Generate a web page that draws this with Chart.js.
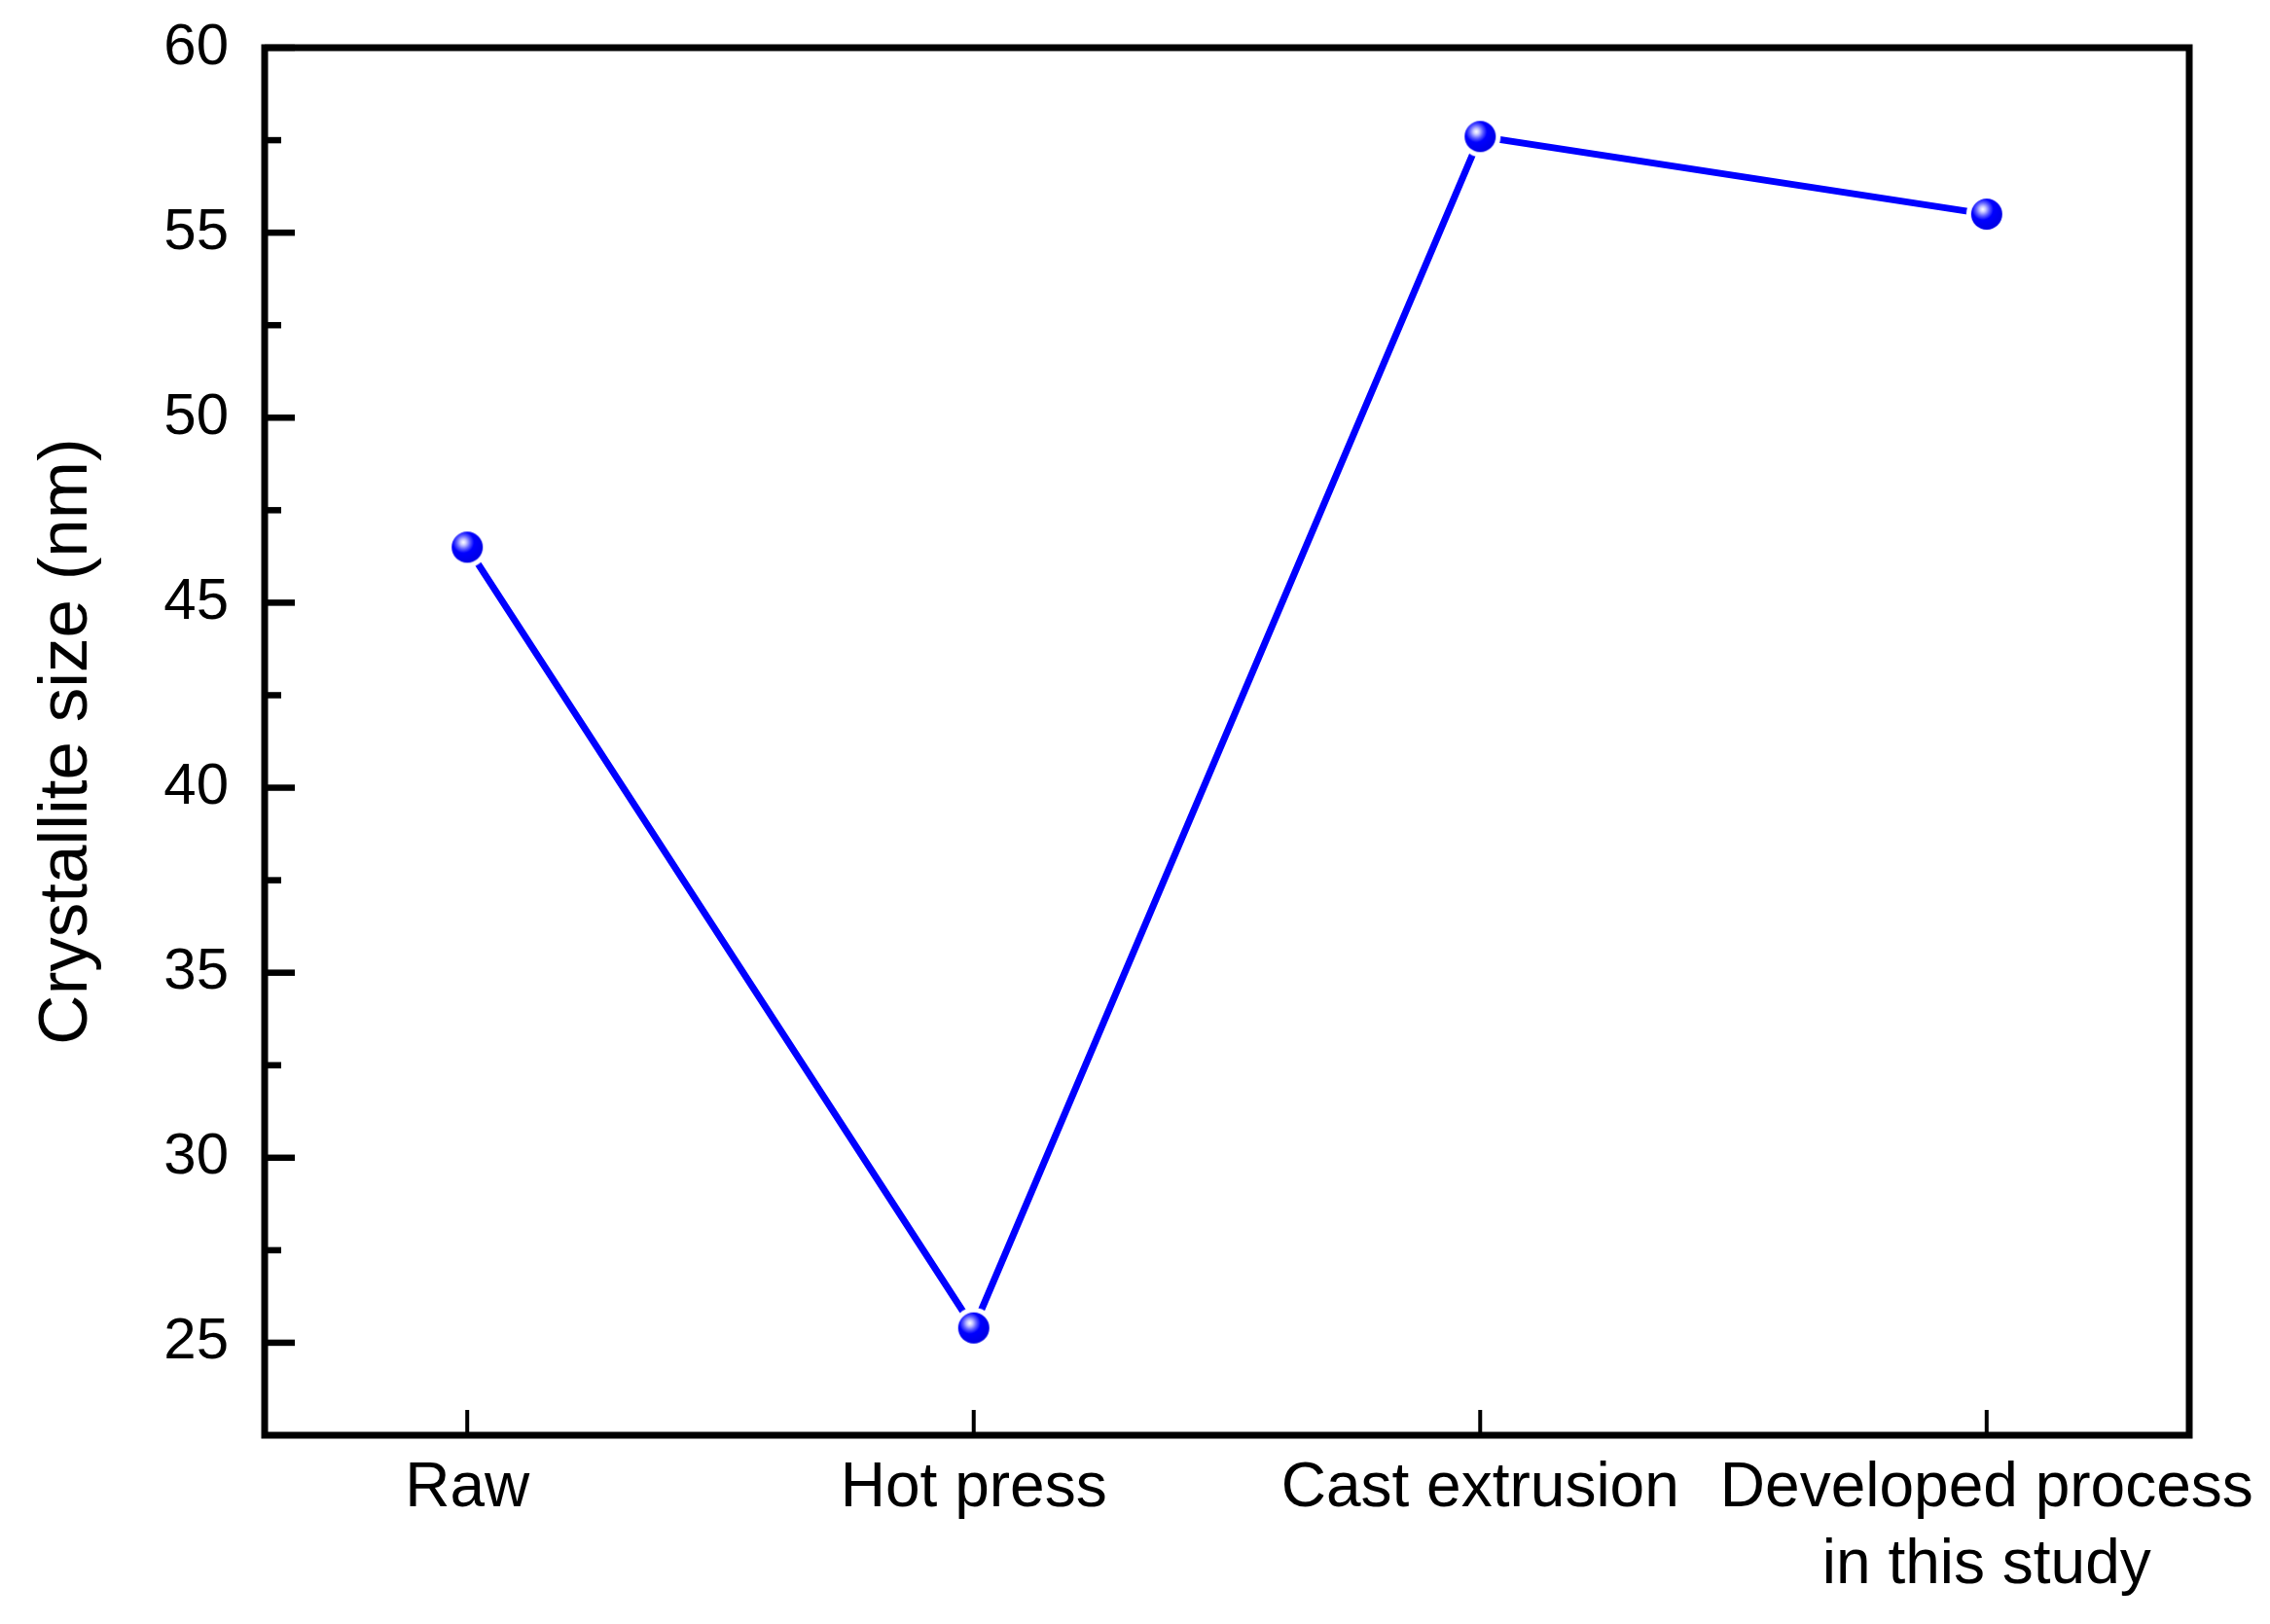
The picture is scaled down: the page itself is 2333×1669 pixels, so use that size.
<!DOCTYPE html>
<html>
<head>
<meta charset="utf-8">
<script src="https://cdn.jsdelivr.net/npm/chart.js@4/dist/chart.umd.min.js"></script>
<style>
  html, body { margin: 0; padding: 0; background: #fff; }
  #wrap { width: 2333px; height: 1669px; }
</style>
</head>
<body>
<div id="wrap"><canvas id="lineChart"></canvas></div>
<script>
// data
const categories = ['Raw', 'Hot press', 'Cast extrusion', ['Developed process', 'in this study']];
const crystalliteSize = [46.5, 25.4, 57.6, 55.5];
const yMajorTicks = [25, 30, 35, 40, 45, 50, 55, 60];
const yMinorTicks = [27.5, 32.5, 37.5, 42.5, 47.5, 52.5, 57.5];

const FONT = "'Liberation Sans', Arial, sans-serif";

// sphere marker with a white halo so the line stops short of it
function makeMarker() {
  const size = 50, c = size / 2, r = 16;
  const cv = document.createElement('canvas');
  cv.width = size; cv.height = size;
  const g = cv.getContext('2d');
  g.fillStyle = '#ffffff';
  g.beginPath(); g.arc(c, c, r + 5, 0, Math.PI * 2); g.fill();
  const grad = g.createRadialGradient(c - 4, c - 5, 0, c - 4, c - 5, r + 4);
  grad.addColorStop(0, '#ffffff');
  grad.addColorStop(0.15, '#c8c8ff');
  grad.addColorStop(0.35, '#5a5aff');
  grad.addColorStop(0.55, '#0000ff');
  grad.addColorStop(1, '#0000e8');
  g.fillStyle = grad;
  g.beginPath(); g.arc(c, c, r, 0, Math.PI * 2); g.fill();
  return cv;
}
const marker = makeMarker();

// drop the label overhang so the plot box sits where the picture has it
function noPad(s) {
  s.paddingTop = 0; s.paddingBottom = 0; s.paddingLeft = 0; s.paddingRight = 0;
}

// frame and inward ticks
const framePlugin = {
  id: 'frame',
  afterDraw(chart) {
    const { ctx, chartArea: a, scales } = chart;
    ctx.save();
    ctx.strokeStyle = '#000';
    ctx.lineCap = 'butt';
    ctx.lineWidth = 6.5;
    yMajorTicks.forEach(v => {
      const y = scales.y.getPixelForValue(v);
      ctx.beginPath(); ctx.moveTo(a.left, y); ctx.lineTo(a.left + 31, y); ctx.stroke();
    });
    yMinorTicks.forEach(v => {
      const y = scales.y.getPixelForValue(v);
      ctx.beginPath(); ctx.moveTo(a.left, y); ctx.lineTo(a.left + 17, y); ctx.stroke();
    });
    ctx.lineWidth = 4;
    categories.forEach((c, i) => {
      const x = scales.x.getPixelForValue(i);
      ctx.beginPath(); ctx.moveTo(x, a.bottom); ctx.lineTo(x, a.bottom - 26); ctx.stroke();
    });
    ctx.lineWidth = 7;
    ctx.strokeRect(a.left, a.top, a.right - a.left, a.bottom - a.top);
    ctx.restore();
  }
};

new Chart('lineChart', {
  type: 'line',
  data: {
    datasets: [{
      label: 'Crystallite size',
      data: crystalliteSize.map((v, i) => ({ x: i, y: v })),
      borderColor: '#0000ff',
      borderWidth: 7,
      tension: 0,
      pointStyle: marker,
      pointRadius: 25,
      pointHoverRadius: 25
    }]
  },
  options: {
    responsive: true,
    maintainAspectRatio: false,
    animation: false,
    events: [],
    layout: { padding: { left: 0, right: 83, top: 49, bottom: 0 } },
    plugins: { legend: { display: false }, tooltip: { enabled: false } },
    scales: {
      x: {
        type: 'linear',
        min: -0.4,
        max: 3.4,
        grid: { display: false, drawTicks: false },
        border: { display: false },
        afterBuildTicks: s => { s.ticks = categories.map((c, i) => ({ value: i })); },
        afterFit: s => { s.height = 194; noPad(s); },
        ticks: {
          autoSkip: false,
          maxRotation: 0,
          padding: 16,
          color: '#000',
          font: { family: FONT, size: 64, lineHeight: 1.23 },
          callback: v => categories[v]
        }
      },
      y: {
        min: 22.5,
        max: 60,
        grid: { display: false, drawTicks: false },
        border: { display: false },
        afterBuildTicks: s => { s.ticks = yMajorTicks.map(v => ({ value: v })); },
        afterFit: s => { s.width = 272; noPad(s); },
        ticks: {
          padding: 37,
          color: '#000',
          font: { family: FONT, size: 60 }
        },
        title: {
          display: true,
          text: 'Crystallite size (nm)',
          color: '#000',
          padding: { top: 27, bottom: 0 },
          font: { family: FONT, size: 71 }
        }
      }
    }
  },
  plugins: [framePlugin]
});
</script>
</body>
</html>
